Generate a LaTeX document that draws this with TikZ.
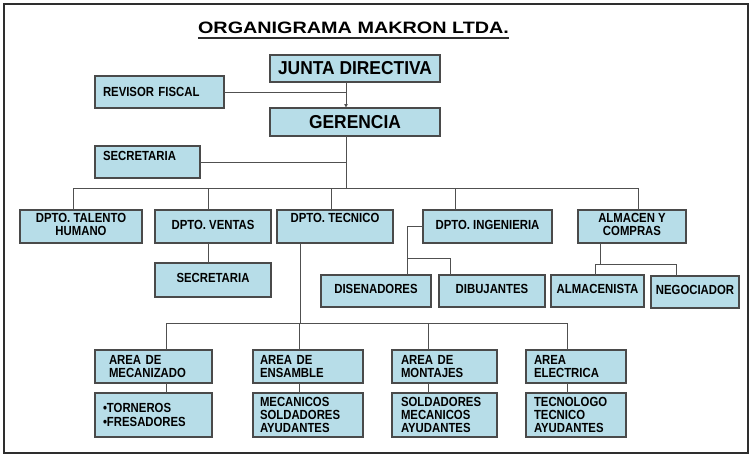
\documentclass[tikz,border=0pt]{standalone}
\usepackage{fontspec}
\setmainfont{Liberation Sans}
\newfontfamily\boxfont[FakeStretch=0.86]{Liberation Sans}
\newfontfamily\headfont[FakeStretch=0.93]{Liberation Sans}
\newfontfamily\titlefont[FakeStretch=1.2]{Liberation Sans}
\usetikzlibrary{positioning,arrows.meta}

\begin{document}
\begin{tikzpicture}[x=1pt,y=1pt]
  \definecolor{boxfill}{HTML}{B7DDE8}
  \definecolor{boxline}{HTML}{4A4A4A}
  \definecolor{wireline}{HTML}{505050}
  \definecolor{frameline}{HTML}{2E2E2E}
  \newcommand{\levelsep}[0]{10pt}
  \newcommand{\boxhead}[1]{\headfont\fontsize{18.7}{20}\selectfont\bfseries #1}
  \newcommand{\boxdesc}[1]{\boxfont\fontsize{13.2}{12.5}\selectfont\bfseries \begin{tabular}{@{}c@{}}#1\end{tabular}}
  \tikzstyle{block}     = [rectangle, draw = boxline, line width=1.3pt, fill = boxfill, inner sep=0pt, outer sep=0pt, anchor=north west]
  \tikzstyle{leftblock} = [block, inner xsep=8pt, align=left, font=\boxfont\fontsize{13.2}{12.7}\selectfont\bfseries]
  \tikzstyle{connector} = [line width=0.8pt, draw = wireline]
  \useasboundingbox (0,0) rectangle (753,-458);
  \draw [frameline, line width=2pt] (4,-4) rectangle (748,-453);
  \node [anchor=base, inner sep=0pt] (title) at (353.5,-33) {\titlefont\fontsize{16.5}{20}\selectfont\bfseries ORGANIGRAMA MAKRON LTDA.};
  \draw [frameline, line width=2pt] ([yshift=-4.5pt]title.base west) -- ([yshift=-4.5pt]title.base east);
  % top of the chart
  \node [block, minimum width=170pt, minimum height=27pt]                           (junta)      at (270,-55)  {\boxhead{JUNTA DIRECTIVA}};
  \node [block, minimum width=170pt, minimum height=28pt]                           (gerencia)   at (270,-108) {\boxhead{GERENCIA}};
  \node [leftblock, text width=113pt, minimum height=32pt]                          (revisor)    at (95,-76)   {REVISOR FISCAL};
  \node [leftblock, text width=89pt,  minimum height=32pt]                          (secre)      at (95,-146)  {SECRETARIA\\\mbox{}};
  % departments
  \node [block, minimum width=122pt, minimum height=33pt]                           (talento)    at (20,-210)  {\boxdesc{DPTO. TALENTO\\HUMANO}};
  \node [block, minimum width=116pt, minimum height=33pt]                           (ventas)     at (155,-210) {\boxdesc{DPTO. VENTAS}};
  \node [block, minimum width=116pt, minimum height=33pt]                           (tecnico)    at (277,-210) {\boxdesc{DPTO. TECNICO\\ \mbox{}}};
  \node [block, minimum width=129pt, minimum height=33pt]                           (ingenieria) at (423,-210) {\boxdesc{DPTO. INGENIERIA}};
  \node [block, minimum width=108pt, minimum height=33pt]                           (almacen)    at (578,-210) {\boxdesc{ALMACEN Y\\COMPRAS}};
  \node [block, minimum width=116pt, minimum height=34pt, below = 20pt of ventas]    (ventassec)                {\boxdesc{SECRETARIA}};
  \node [block, minimum width=110pt, minimum height=32pt]                           (disenadores) at (321,-275) {\boxdesc{DISENADORES}};
  \node [block, minimum width=106pt, minimum height=32pt]                           (dibujantes)  at (439,-275) {\boxdesc{DIBUJANTES}};
  \node [block, minimum width=93pt,  minimum height=32pt]                           (almacenista) at (551,-275) {\boxdesc{ALMACENISTA}};
  \node [block, minimum width=88pt,  minimum height=32pt]                           (negociador)  at (651,-276) {\boxdesc{NEGOCIADOR}};
  % areas of the technical department
  \node [leftblock, inner xsep=14pt, text width=89pt, minimum height=33pt]          (meca)       at (95,-350)  {AREA DE\\MECANIZADO};
  \node [leftblock, inner xsep=7pt,  text width=96pt, minimum height=33pt]          (ensamble)   at (253,-350) {AREA DE\\ENSAMBLE};
  \node [leftblock, inner xsep=9pt,  text width=87pt, minimum height=33pt]          (montajes)   at (392,-350) {AREA DE\\MONTAJES};
  \node [leftblock, inner xsep=8pt,  text width=84pt, minimum height=33pt]          (electrica)  at (526,-350) {AREA\\ELECTRICA};
  \node [leftblock, inner xsep=8pt,  text width=101pt, minimum height=44pt, below = \levelsep of meca]      (tornos)     {\textbullet TORNEROS\\[1.3pt]\textbullet FRESADORES};
  \node [leftblock, inner xsep=7pt,  text width=96pt,  minimum height=44pt, below = \levelsep of ensamble]  (mecanicos)  {MECANICOS\\SOLDADORES\\AYUDANTES};
  \node [leftblock, inner xsep=9pt,  text width=87pt,  minimum height=44pt, below = \levelsep of montajes]  (soldadores) {SOLDADORES\\MECANICOS\\AYUDANTES};
  \node [leftblock, inner xsep=8pt,  text width=84pt,  minimum height=44pt, below = \levelsep of electrica] (tecnologo)  {TECNOLOGO\\TECNICO\\AYUDANTES};
  % connectors
  \coordinate (axis)      at (346,0);
  \coordinate (bus1)      at (0,-188);
  \coordinate (bus2)      at (0,-323);
  \coordinate (ingbranch) at (0,-258);
  \coordinate (almbranch) at (0,-264);
  \draw [connector, -{Latex[length=4pt, width=4pt]}] (junta.south -| axis) -- (gerencia.north -| axis);
  \draw [connector] (revisor.east) -- (revisor.east -| axis);
  \draw [connector] (gerencia.south -| axis) -- (axis |- bus1);
  \draw [connector] (secre.east) -- (secre.east -| axis);
  \draw [connector] ([xshift=-8pt]talento.north |- bus1) -- ([xshift=6pt]almacen.north |- bus1);
  \foreach \dept/\dx in {talento/-8, ventas/-5, tecnico/-4, ingenieria/-32.5, almacen/6}
    \draw [connector] ([xshift=\dx pt]\dept.north |- bus1) -- ([xshift=\dx pt]\dept.north);
  \draw [connector] ([xshift=-5pt]ventas.south) -- ([xshift=-5pt]ventassec.north);
  \draw [connector] (ingenieria.west) -| ([xshift=31pt]disenadores.north);
  \draw [connector] ([xshift=31pt]disenadores.north |- ingbranch) -| ([xshift=-42pt]dibujantes.north);
  \draw [connector] ([xshift=-32pt]almacen.south) -- ([xshift=-32pt]almacen.south |- almbranch);
  \draw [connector] ([xshift=-2.5pt]almacenista.north) |- ([xshift=-19pt]negociador.north |- almbranch) -- ([xshift=-19pt]negociador.north);
  \draw [connector] ([xshift=-35pt]tecnico.south) -- ([xshift=-35pt]tecnico.south |- bus2);
  \draw [connector] ([xshift=12.5pt]meca.north |- bus2) -- ([xshift=-9pt]electrica.north |- bus2);
  \foreach \area/\job/\dx in {meca/tornos/12.5, ensamble/mecanicos/-9, montajes/soldadores/-16.5, electrica/tecnologo/-9} {
    \draw [connector] ([xshift=\dx pt]\area.north |- bus2) -- ([xshift=\dx pt]\area.north);
    \draw [connector] ([xshift=\dx pt]\area.south) -- ([xshift=\dx pt]\job.north);
  }
\end{tikzpicture}
\end{document}
